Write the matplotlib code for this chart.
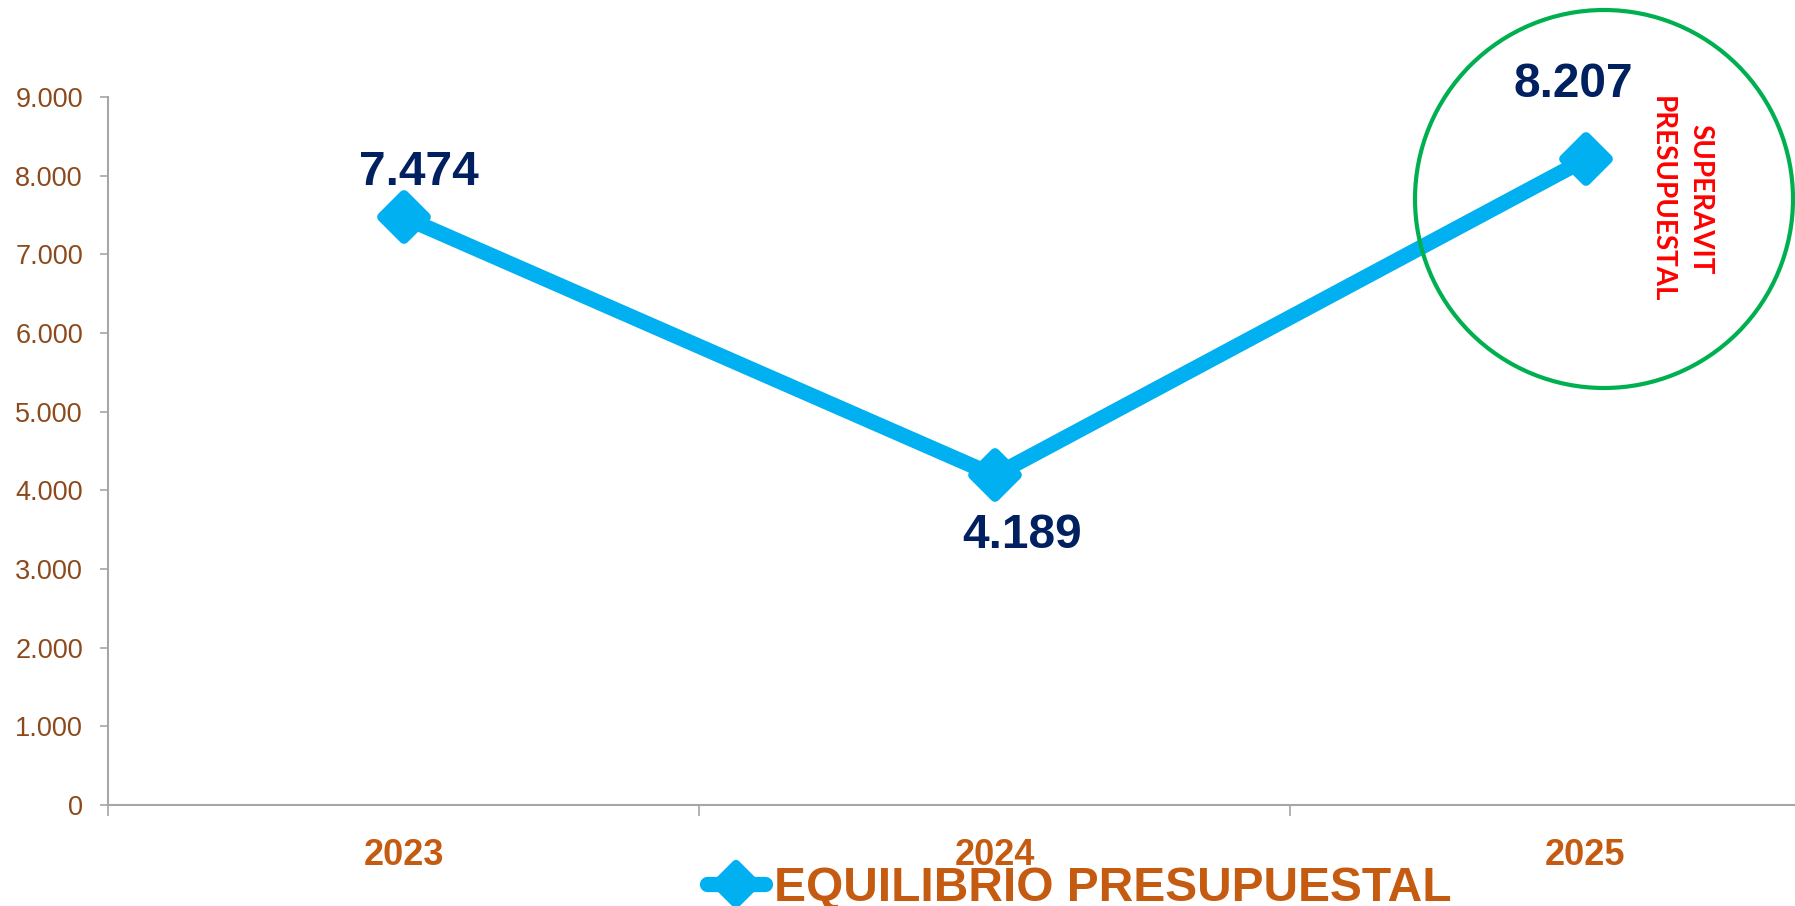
import matplotlib
matplotlib.use("Agg")
import matplotlib.pyplot as plt
from matplotlib.patches import Ellipse
from matplotlib.lines import Line2D
from matplotlib.markers import MarkerStyle
from matplotlib.ticker import FuncFormatter

years = ["2023", "2024", "2025"]
values = [7474, 4189, 8207]
value_labels = ["7.474", "4.189", "8.207"]
series_name = "EQUILIBRIO PRESUPUESTAL"
note_text = "SUPERAVIT\nPRESUPUESTAL"
yticks = [0, 1000, 2000, 3000, 4000, 5000, 6000, 7000, 8000, 9000]

W, H = 1795, 906
fig = plt.figure(figsize=(W / 100, H / 100), dpi=100)
plt.rcParams['font.family'] = ['Liberation Sans', 'DejaVu Sans']

ax = fig.add_axes([108 / W, 1 - 805 / H, (1881 - 108) / W, (805 - 97) / H])
x = list(range(len(years)))
line_color = "#00B0F0"
mk = MarkerStyle("D", joinstyle="round")
ax.plot(x, values, color=line_color, lw=11, marker=mk, ms=22, mew=7,
        mec=line_color, mfc=line_color, solid_joinstyle="round",
        solid_capstyle="butt", zorder=3, clip_on=False)

ax.set_xlim(-0.5, 2.5)
ax.set_ylim(0, 9000)
ax.set_yticks(yticks)
ax.yaxis.set_major_formatter(FuncFormatter(lambda v, p: f"{int(v):,}".replace(",", ".")))
ax.tick_params(axis="y", direction="out", length=6, width=1.2, color="#A6A6A6",
               labelsize=19.5, labelcolor="#8C4A1C", pad=12)
ax.set_xticks(x)
ax.set_xticklabels(years)
ax.tick_params(axis="x", which="major", length=0, pad=24, labelsize=26,
               labelcolor="#C55A11")
for lbl in ax.get_xticklabels():
    lbl.set_fontweight("bold")
ax.set_xticks([-0.5, 0.5, 1.5, 2.5], minor=True)
ax.tick_params(axis="x", which="minor", direction="out", length=8, width=1.2,
               color="#A6A6A6")
for s in ["top", "right"]:
    ax.spines[s].set_visible(False)
for s in ["left", "bottom"]:
    ax.spines[s].set_color("#A6A6A6")
    ax.spines[s].set_linewidth(1.5)

offsets = [(11, 32), (20, -43), (-9, 54)]
for xi, v, t, off in zip(x, values, value_labels, offsets):
    ax.annotate(t, (xi, v), xytext=off, textcoords="offset points",
                ha="center", va="center", fontsize=34.5, fontweight="bold",
                color="#002060", zorder=5)

# green circle
cx, cy, r = 1604, 199, 189
fig.patches.append(Ellipse((cx / W, 1 - cy / H), 2 * r / W, 2 * r / H,
                           transform=fig.transFigure, fill=False,
                           edgecolor="#00B050", lw=3, zorder=10))
fig.text(1681 / W, 1 - 199 / H, note_text, rotation=270, ha="center", va="center",
         color="#FF0000", fontsize=20, fontweight="bold", family=["Lato", "DejaVu Sans"],
         linespacing=1.6, multialignment="center")

handle = Line2D([], [], color=line_color, lw=11, marker=mk, ms=20, mew=6,
                mec=line_color, mfc=line_color, solid_capstyle="round")
leg = fig.legend([handle], [series_name], loc="center left",
                 bbox_to_anchor=(707 / W, 1 - 888 / H), frameon=False,
                 borderpad=0, borderaxespad=0, handlelength=1.2,
                 handletextpad=0.2, prop={"size": 34.5, "weight": "bold"})
for t in leg.get_texts():
    t.set_color("#C55A11")

fig.savefig("out.png", dpi=100)
